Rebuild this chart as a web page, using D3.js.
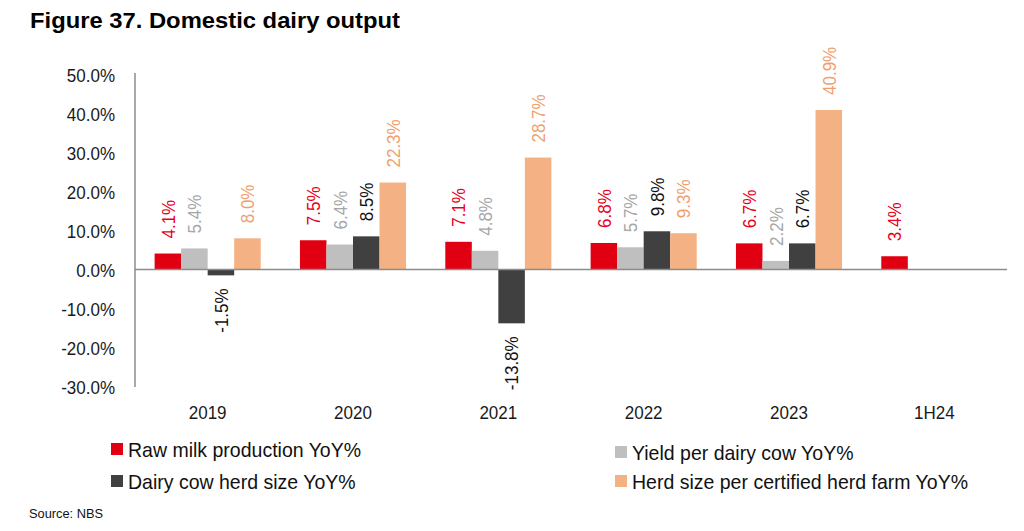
<!DOCTYPE html>
<html><head><meta charset="utf-8">
<script src="https://cdn.jsdelivr.net/npm/d3@7"></script>
<style>body{margin:0;background:#fff}svg{display:block}text{font-family:"Liberation Sans",Arial,sans-serif}</style>
</head><body><svg id="c" width="1024" height="531"></svg>
<script>
const categories = ["2019","2020","2021","2022","2023","1H24"];
const seriesNames = ["Raw milk production YoY%","Yield per dairy cow YoY%","Dairy cow herd size YoY%","Herd size per certified herd farm YoY%"];
const rawMilk = [4.1,7.5,7.1,6.8,6.7,3.4];
const yieldPerCow = [5.4,6.4,4.8,5.7,2.2,null];
const herdSize = [-1.5,8.5,-13.8,9.8,6.7,null];
const herdPerFarm = [8.0,22.3,28.7,9.3,40.9,null];
const yTicks = [-30,-20,-10,0,10,20,30,40,50];

const seriesValues = [rawMilk, yieldPerCow, herdSize, herdPerFarm];
const barColors = ["#E00012","#BFBFBF","#404040","#F4B183"];
const labelColors = ["#E8001C","#A6A6A6","#111111","#F0A06E"];
const pct = v => d3.format(".1f")(v).replace("\u2212","-") + "%";

// render text at a taller size but keep the width of a smaller size (narrow look)
function condense(sel, widthSize, tallSize){
  sel.each(function(){
    const t = d3.select(this);
    t.attr("font-size", widthSize);
    const w = this.getComputedTextLength();
    t.attr("font-size", tallSize).attr("textLength", w).attr("lengthAdjust","spacingAndGlyphs");
  });
}

const svg = d3.select("#c");
const x0 = d3.scaleBand().domain(categories).range([135,1007]).paddingInner(0.27).paddingOuter(0.135);
const x1 = d3.scaleBand().domain(d3.range(4)).range([0,x0.bandwidth()]);
const y = d3.scaleLinear().domain([-30,50]).range([386.5,74.5]);

const title = svg.append("text").attr("x",30).attr("y",28).attr("font-weight","bold").attr("fill","#000")
  .text("Figure 37. Domestic dairy output");
title.attr("font-size",21.5).attr("textLength",370).attr("lengthAdjust","spacingAndGlyphs");

// y axis
const yAxis = d3.axisLeft(y).tickValues(yTicks).tickSize(0).tickPadding(20).tickFormat(pct);
const ga = svg.append("g").attr("transform","translate(135,0)").call(yAxis);
ga.select(".domain").attr("stroke","#8c8c8c").attr("stroke-width",1.5).attr("d","M0,"+(y(50)-1.5)+"V"+(y(-30)+0.5));
ga.selectAll("text").attr("fill","#1a1a1a").attr("font-family","Liberation Sans, Arial, sans-serif").attr("dy","0.36em");
condense(ga.selectAll("text"),17,19);

// bars
const data = [];
categories.forEach((c,i)=>seriesValues.forEach((s,j)=>{ if(s[i]!=null) data.push({c,j,v:s[i]}); }));
svg.append("g").selectAll("rect").data(data).join("rect")
  .attr("x",d=>x0(d.c)+x1(d.j)).attr("width",x1.bandwidth())
  .attr("y",d=>y(Math.max(0,d.v))).attr("height",d=>Math.abs(y(d.v)-y(0)))
  .attr("fill",d=>barColors[d.j]);

// zero line
svg.append("line").attr("x1",135).attr("x2",1007).attr("y1",y(0)).attr("y2",y(0))
  .attr("stroke","#8c8c8c").attr("stroke-width",1.5);

// labels
const lab = svg.append("g").selectAll("text").data(data).join("text")
  .attr("transform",d=>{
    const cx = x0(d.c)+x1(d.j)+x1.bandwidth()/2;
    const yy = d.v>=0 ? y(d.v)-15 : y(d.v)+13;
    return `translate(${cx},${yy}) rotate(-90)`;
  })
  .attr("text-anchor",d=>d.v>=0?"start":"end")
  .attr("dy","0.36em")
  .attr("fill",d=>labelColors[d.j])
  .text(d=>pct(d.v));
condense(lab,17,19);

// x labels
const xl = svg.append("g").selectAll("text").data(categories).join("text")
  .attr("x",d=>x0(d)+x0.bandwidth()/2).attr("y",412).attr("text-anchor","middle")
  .attr("dy","0.36em").attr("fill","#1a1a1a").text(d=>d);
condense(xl,17,19);

// legend
const legPos = [[111,449],[615,452],[111,481],[615,481]];
const lg = svg.append("g").selectAll("g").data(seriesNames).join("g")
  .attr("transform",(d,i)=>`translate(${legPos[i][0]},${legPos[i][1]})`);
lg.append("rect").attr("x",0).attr("y",-6).attr("width",12).attr("height",12).attr("fill",(d,i)=>barColors[i]);
const lt = lg.append("text").attr("x",17).attr("y",0).attr("dy","0.36em")
  .attr("fill","#111").text(d=>d);
condense(lt,19.5,21);

svg.append("text").attr("x",29).attr("y",518).attr("font-size",13.5).attr("fill","#111")
  .attr("textLength",74).attr("lengthAdjust","spacingAndGlyphs").text("Source: NBS");
</script></body></html>
